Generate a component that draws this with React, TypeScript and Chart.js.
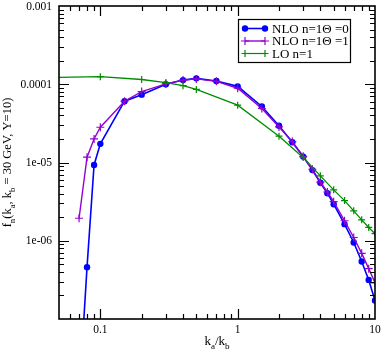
import React, { useEffect, useRef } from "react";
import { Chart, registerables } from "chart.js";

Chart.register(...registerables);

// ---- data ----
const xNLO = [0.07, 0.08, 0.09, 0.1, 0.15, 0.2, 0.3, 0.4, 0.5, 0.7, 1, 1.5, 2, 2.5, 3, 3.5, 4, 4.5, 5, 6, 7, 8, 9, 10];
const nloTheta0 = [1.0e-8, 4.6e-7, 9.3e-6, 1.73e-5, 6.07e-5, 7.36e-5, 1.0e-4, 1.13e-4, 1.19e-4, 1.1e-4, 9.4e-5, 5.2e-5, 2.95e-5, 1.82e-5, 1.19e-5, 8.0e-6, 5.5e-6, 4.05e-6, 2.93e-6, 1.63e-6, 9.5e-7, 5.43e-7, 3.16e-7, 1.72e-7];
const nloTheta1 = [1.94e-6, 1.17e-5, 2.0e-5, 2.82e-5, 6.07e-5, 8.05e-5, 1.01e-4, 1.13e-4, 1.17e-4, 1.09e-4, 8.9e-5, 4.9e-5, 2.85e-5, 1.85e-5, 1.2e-5, 8.2e-6, 5.6e-6, 4.2e-6, 3.16e-6, 1.8e-6, 1.1e-6, 6.9e-7, 4.4e-7, 2.9e-7];
const xLO = [0.04, 0.1, 0.2, 0.3, 0.4, 0.5, 1, 2, 3, 4, 5, 6, 7, 8, 9, 10];
const loN1 = [1.22e-4, 1.25e-4, 1.15e-4, 1.05e-4, 9.6e-5, 8.6e-5, 5.4e-5, 2.17e-5, 1.16e-5, 6.75e-6, 4.47e-6, 3.26e-6, 2.41e-6, 1.85e-6, 1.48e-6, 1.23e-6];

const seriesNames = ["NLO n=1\u0398 =0", "NLO n=1\u0398 =1", "LO n=1"];

const xTickValues = [0.1, 1, 10];
const xTickLabels = ["0.1", "1", "10"];
const yTickValues = [1e-6, 1e-5, 1e-4, 1e-3];
const yTickLabels = ["1e-06", "1e-05", "0.0001", "0.001"];

const X_MIN = 0.05, X_MAX = 10, Y_MIN = 1e-7, Y_MAX = 1e-3;

const BLUE = "#0000ff";
const PURPLE = "#9400d3";
const GREEN = "#008c00";
const SERIF = '"Liberation Serif", "DejaVu Serif", serif';

type Part = { t: string; sub?: boolean };

function drawRich(ctx: CanvasRenderingContext2D, parts: Part[], cx: number, y: number, size: number) {
  const subSize = size * 0.7;
  let total = 0;
  for (const p of parts) {
    ctx.font = `${p.sub ? subSize : size}px ${SERIF}`;
    total += ctx.measureText(p.t).width;
  }
  let x = cx - total / 2;
  ctx.textAlign = "left";
  ctx.textBaseline = "alphabetic";
  for (const p of parts) {
    ctx.font = `${p.sub ? subSize : size}px ${SERIF}`;
    ctx.fillText(p.t, x, p.sub ? y + size * 0.3 : y);
    x += ctx.measureText(p.t).width;
  }
}

function drawMarker(ctx: CanvasRenderingContext2D, kind: string, x: number, y: number, color: string, r: number) {
  ctx.save();
  ctx.strokeStyle = color;
  ctx.fillStyle = color;
  if (kind === "circle") {
    ctx.beginPath();
    ctx.arc(x, y, r, 0, Math.PI * 2);
    ctx.fill();
  } else {
    ctx.lineWidth = 1.2;
    ctx.beginPath();
    ctx.moveTo(x - r, y);
    ctx.lineTo(x + r, y);
    ctx.moveTo(x, y - r);
    ctx.lineTo(x, y + r);
    ctx.stroke();
  }
  ctx.restore();
}

const axesPlugin = {
  id: "graceAxes",
  afterDraw(chart: any) {
    const ctx: CanvasRenderingContext2D = chart.ctx;
    const { left, right, top, bottom } = chart.chartArea;
    const xs = chart.scales.x;
    const ys = chart.scales.y;
    ctx.save();
    ctx.strokeStyle = "#000";
    ctx.fillStyle = "#000";

    // ticks (inward, mirrored)
    ctx.lineWidth = 1.2;
    const major = 10, minor = 5;
    ctx.beginPath();
    for (let e = -8; e <= 2; e++) {
      for (let m = 1; m <= 9; m++) {
        const v = m * Math.pow(10, e);
        const len = m === 1 ? major : minor;
        if (v > X_MIN * 1.0001 && v < X_MAX * 0.9999) {
          const px = Math.round(xs.getPixelForValue(v)) + 0.5;
          ctx.moveTo(px, bottom);
          ctx.lineTo(px, bottom - len);
          ctx.moveTo(px, top);
          ctx.lineTo(px, top + len);
        }
        if (v > Y_MIN * 1.0001 && v < Y_MAX * 0.9999) {
          const py = Math.round(ys.getPixelForValue(v)) + 0.5;
          ctx.moveTo(left, py);
          ctx.lineTo(left + len, py);
          ctx.moveTo(right, py);
          ctx.lineTo(right - len, py);
        }
      }
    }
    ctx.stroke();

    // frame
    ctx.lineWidth = 1.6;
    ctx.strokeRect(left, top, right - left, bottom - top);

    // tick labels
    ctx.font = `11.5px ${SERIF}`;
    ctx.textAlign = "center";
    ctx.textBaseline = "alphabetic";
    xTickValues.forEach((v, i) => {
      ctx.fillText(xTickLabels[i], xs.getPixelForValue(v), bottom + 14);
    });
    ctx.textAlign = "right";
    ctx.textBaseline = "middle";
    yTickValues.forEach((v, i) => {
      ctx.fillText(yTickLabels[i], left - 7, ys.getPixelForValue(v) + 0.5);
    });

    // axis titles
    drawRich(ctx, [{ t: "k" }, { t: "a", sub: true }, { t: "/k" }, { t: "b", sub: true }], (left + right) / 2, bottom + 26, 13);
    ctx.save();
    ctx.translate(11, (top + bottom) / 2);
    ctx.rotate(-Math.PI / 2);
    drawRich(
      ctx,
      [
        { t: "f" }, { t: "n", sub: true }, { t: "(k" }, { t: "a", sub: true },
        { t: ", k" }, { t: "b", sub: true }, { t: " = 30 GeV, Y=10)" },
      ],
      0, 0, 12.5
    );
    ctx.restore();

    // legend
    const bx = 238.5, by = 19.5, bw = 112, bh = 43;
    ctx.fillStyle = "#fff";
    ctx.fillRect(bx, by, bw, bh);
    ctx.strokeStyle = "#000";
    ctx.lineWidth = 1.2;
    ctx.strokeRect(bx, by, bw, bh);
    const rows = [
      { name: seriesNames[0], color: BLUE, kind: "circle", r: 3.2, lw: 1.6 },
      { name: seriesNames[1], color: PURPLE, kind: "cross", r: 4, lw: 1.4 },
      { name: seriesNames[2], color: GREEN, kind: "cross", r: 3.5, lw: 1.2 },
    ];
    rows.forEach((row, i) => {
      const ry = 28.5 + i * 12.5;
      ctx.strokeStyle = row.color;
      ctx.lineWidth = row.lw;
      ctx.beginPath();
      ctx.moveTo(245, ry);
      ctx.lineTo(265, ry);
      ctx.stroke();
      drawMarker(ctx, row.kind, 245, ry, row.color, row.r);
      drawMarker(ctx, row.kind, 265, ry, row.color, row.r);
      ctx.fillStyle = "#000";
      ctx.font = `13px ${SERIF}`;
      ctx.textAlign = "left";
      ctx.textBaseline = "middle";
      ctx.fillText(row.name, 272, ry + 1);
    });
    ctx.restore();
  },
};

export default function App() {
  const ref = useRef<HTMLCanvasElement>(null);
  useEffect(() => {
    const toPts = (xs: number[], ys: number[]) => xs.map((x, i) => ({ x, y: ys[i] }));
    const chart = new Chart(ref.current!, {
      type: "line",
      data: {
        datasets: [
          {
            label: seriesNames[2],
            data: toPts(xLO, loN1),
            borderColor: GREEN,
            backgroundColor: GREEN,
            borderWidth: 1.3,
            pointStyle: "cross",
            pointRadius: 3.5,
            pointBorderWidth: 1.2,
            tension: 0,
          },
          {
            label: seriesNames[1],
            data: toPts(xNLO, nloTheta1),
            borderColor: PURPLE,
            backgroundColor: PURPLE,
            borderWidth: 1.4,
            pointStyle: "cross",
            pointRadius: 4,
            pointBorderWidth: 1.2,
            tension: 0,
          },
          {
            label: seriesNames[0],
            data: toPts(xNLO, nloTheta0),
            borderColor: BLUE,
            backgroundColor: BLUE,
            borderWidth: 1.6,
            pointStyle: "circle",
            pointRadius: 3.2,
            pointBorderWidth: 0,
            tension: 0,
          },
        ],
      },
      options: {
        responsive: false,
        animation: false,
        devicePixelRatio: 1,
        layout: { padding: { left: 59, top: 6, right: 7, bottom: 30 } },
        plugins: { legend: { display: false }, tooltip: { enabled: false } },
        scales: {
          x: { type: "logarithmic", min: X_MIN, max: X_MAX, display: false },
          y: { type: "logarithmic", min: Y_MIN, max: Y_MAX, display: false },
        },
      } as any,
      plugins: [axesPlugin],
    });
    return () => chart.destroy();
  }, []);
  return (
    <div style={{ position: "fixed", left: 0, top: 0, width: 382, height: 349, background: "#fff" }}>
      <canvas ref={ref} width={382} height={349} style={{ display: "block", width: 382, height: 349 }} />
    </div>
  );
}
